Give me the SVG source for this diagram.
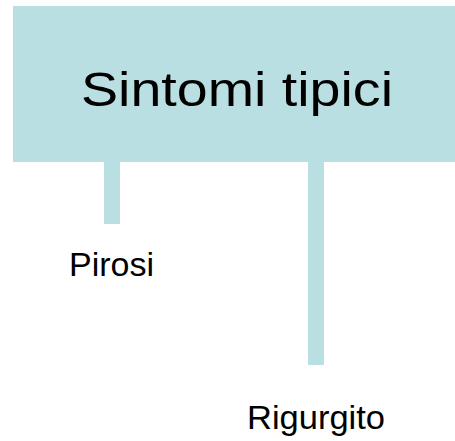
<svg xmlns="http://www.w3.org/2000/svg" width="455" height="441" viewBox="0 0 455 441">
<style>
.box{fill:#BADFE3}
.t{font-family:"Liberation Sans",Arial,sans-serif;fill:#000}
</style>
<rect width="455" height="441" fill="#fff"/>
<g id="connectors">
<rect class="box" x="104" y="160" width="16" height="64"/>
<rect class="box" x="308" y="160" width="16" height="205"/>
</g>
<g id="root">
<rect class="box" x="13" y="6" width="442" height="156"/>
<text class="t" x="237" y="106" font-size="49" text-anchor="middle" textLength="312" lengthAdjust="spacingAndGlyphs">Sintomi tipici</text>
</g>
<g id="pirosi">
<text class="t" x="69" y="275.5" font-size="33" textLength="85" lengthAdjust="spacingAndGlyphs">Pirosi</text>
</g>
<g id="rigurgito">
<text class="t" x="247" y="428.5" font-size="33" textLength="138" lengthAdjust="spacingAndGlyphs">Rigurgito</text>
</g>
</svg>
